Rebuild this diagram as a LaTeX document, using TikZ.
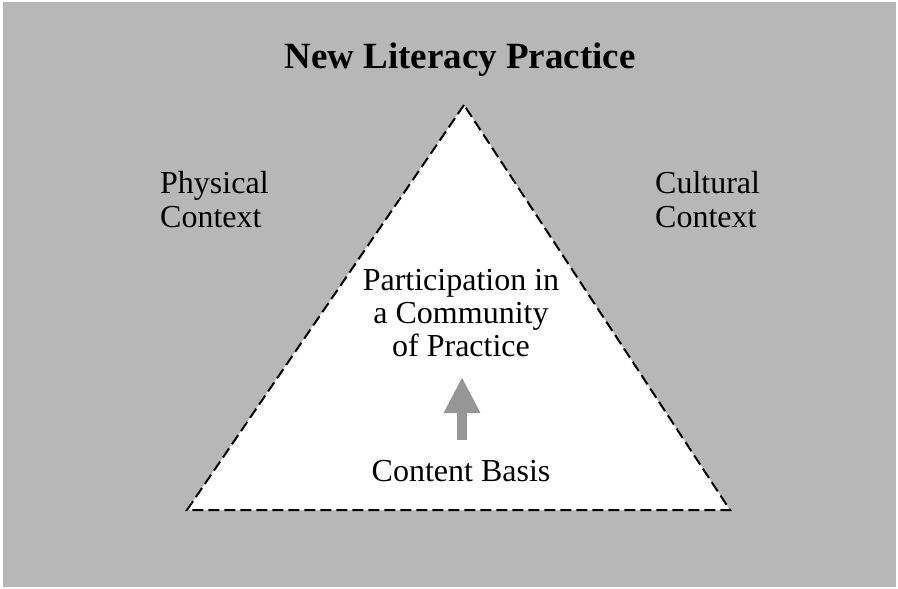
\documentclass[tikz,border=0pt]{standalone}
\usepackage{fontspec}
\setmainfont{Liberation Serif}
\usetikzlibrary{arrows.meta}
\definecolor{bggray}{RGB}{183,183,183}
\definecolor{arrgray}{RGB}{150,150,150}
\tikzset{
  lbl/.style={font=\fontsize{32}{34}\selectfont, inner sep=0pt, anchor=base},
  tri/.style={fill=white, draw=black, line width=2pt, dash pattern=on 11pt off 5pt},
}
\begin{document}
\begin{tikzpicture}[x=1pt,y=-1pt]
\useasboundingbox (0,0) rectangle (898,589);
\fill[white] (0,0) rectangle (898,589);
\fill[bggray] (3,2) rectangle (896,587);
\node[font=\fontsize{37}{41}\selectfont\bfseries, inner sep=0pt, anchor=base] (title) at (460,68) {New Literacy Practice};
\coordinate (apex) at (464,105);
\coordinate (bl) at (187,510);
\coordinate (br) at (730,510);
\draw[tri] (apex) -- (bl) -- (br) -- cycle;
\node[lbl, anchor=base west] (phys1) at (160,193) {Physical};
\node[lbl, anchor=base west] (phys2) at (160,227) {Context};
\node[lbl, anchor=base west] (cult1) at (655,193) {Cultural};
\node[lbl, anchor=base west] (cult2) at (655,227) {Context};
\node[lbl] (part1) at (461,290) {Participation in};
\node[lbl] (part2) at (461,323) {a Community};
\node[lbl] (part3) at (461,356) {of Practice};
\node[lbl] (cb) at (461,481) {Content Basis};
\coordinate (atail) at (462,440);
\coordinate (ahead) at (462,377);
\draw[arrgray, line width=10pt, -{Triangle[width=34pt,length=36pt]}] (atail) -- (ahead);
\end{tikzpicture}
\end{document}
